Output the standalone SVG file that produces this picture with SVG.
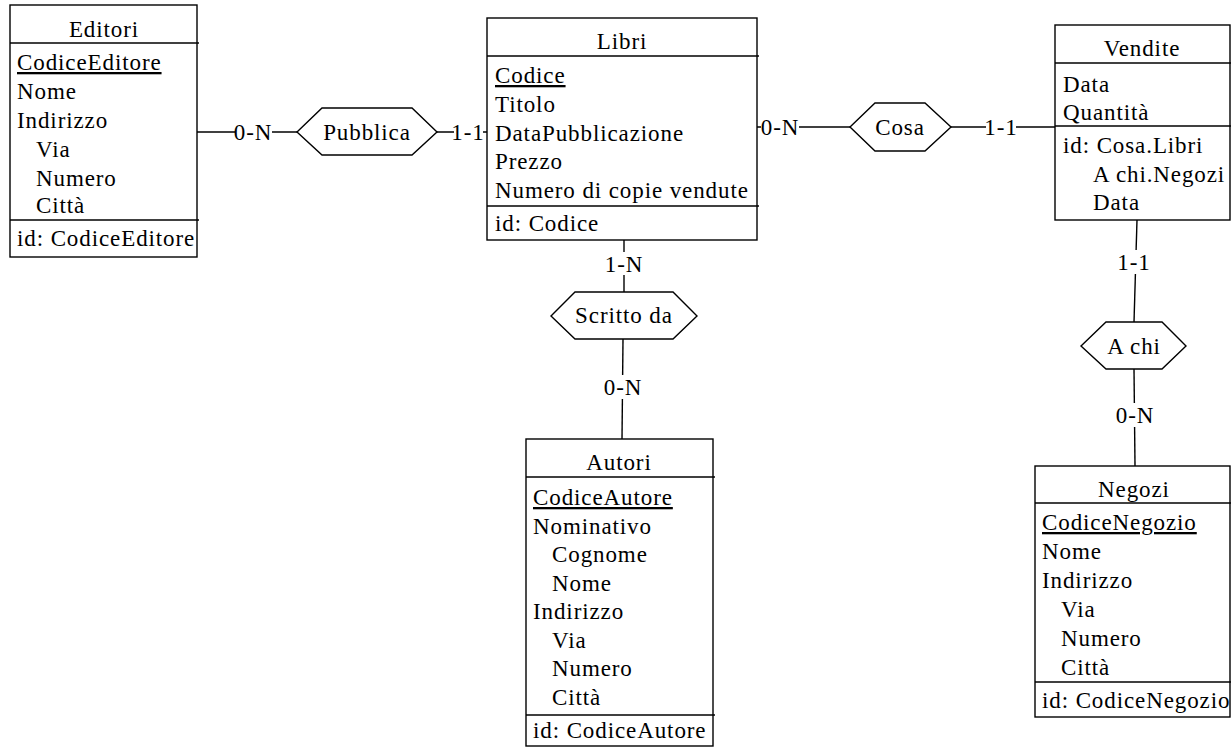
<svg xmlns="http://www.w3.org/2000/svg" width="1231" height="748" viewBox="0 0 1231 748">
<style>
  text { font-family: "Liberation Serif", "Times New Roman", serif; font-size: 23px; letter-spacing: 0.9px; fill: #000; }
  .t { text-anchor: middle; }
  .u { text-decoration: underline; }
  .box { fill: #fff; stroke: #000; stroke-width: 1.4; }
  .div { stroke: #000; stroke-width: 1.4; fill: none; }
  .hex { fill: #fff; stroke: #000; stroke-width: 1.4; }
  .ln { stroke: #000; stroke-width: 1.4; fill: none; }
  .bg { fill: #fff; stroke: none; }
  .card { text-anchor: middle; }
</style>
<rect width="1231" height="748" fill="#fff"/>

<g id="connectors">
  <line class="ln" x1="197" y1="132" x2="297" y2="132"/>
  <rect class="bg" x="235" y="120" width="37" height="24"/>
  <text class="card" x="253" y="140">0-N</text>
  <line class="ln" x1="437" y1="132" x2="487" y2="132"/>
  <rect class="bg" x="454" y="120" width="29" height="24"/>
  <text class="card" x="468" y="140">1-1</text>
  <line class="ln" x1="757" y1="127" x2="850" y2="127"/>
  <rect class="bg" x="761" y="115" width="38" height="24"/>
  <text class="card" x="780" y="135">0-N</text>
  <line class="ln" x1="951" y1="127" x2="1055" y2="127"/>
  <rect class="bg" x="986" y="115" width="30" height="24"/>
  <text class="card" x="1001" y="135">1-1</text>
  <line class="ln" x1="624" y1="240" x2="624" y2="292"/>
  <rect class="bg" x="605" y="252" width="38" height="23"/>
  <text class="card" x="624" y="272">1-N</text>
  <line class="ln" x1="623" y1="339" x2="622" y2="439"/>
  <rect class="bg" x="604" y="375" width="38" height="24"/>
  <text class="card" x="623" y="395">0-N</text>
  <line class="ln" x1="1137" y1="220" x2="1134" y2="322"/>
  <rect class="bg" x="1119" y="250" width="30" height="24"/>
  <text class="card" x="1134" y="270">1-1</text>
  <line class="ln" x1="1134" y1="369" x2="1135" y2="466"/>
  <rect class="bg" x="1116" y="403" width="38" height="24"/>
  <text class="card" x="1135" y="423">0-N</text>
</g>

<g id="Pubblica">
  <polygon class="hex" points="297,132 322,108 412,108 437,132 412,155 322,155"/>
  <text class="t" x="367" y="140">Pubblica</text>
</g>
<g id="Cosa">
  <polygon class="hex" points="850,127 875,103 925,103 951,127 925,151 875,151"/>
  <text class="t" x="900" y="135">Cosa</text>
</g>
<g id="ScrittoDa">
  <polygon class="hex" points="551,316 575,292 673,292 697,316 673,339 575,339"/>
  <text class="t" x="624" y="323">Scritto da</text>
</g>
<g id="AChi">
  <polygon class="hex" points="1081,346 1106,322 1162,322 1186,346 1162,369 1106,369"/>
  <text class="t" x="1134" y="354">A chi</text>
</g>

<g id="Editori">
  <rect class="box" x="10" y="5" width="187" height="252"/>
  <line class="div" x1="10" y1="43" x2="199" y2="43"/>
  <line class="div" x1="10" y1="220" x2="199" y2="220"/>
  <text class="t" x="104" y="37">Editori</text>
  <text class="u" x="17" y="70">CodiceEditore</text>
  <text x="17" y="99">Nome</text>
  <text x="17" y="128">Indirizzo</text>
  <text x="36" y="157">Via</text>
  <text x="36" y="186">Numero</text>
  <text x="36" y="213">Città</text>
  <text x="17" y="246">id: CodiceEditore</text>
</g>

<g id="Libri">
  <rect class="box" x="487" y="18" width="270" height="222"/>
  <line class="div" x1="487" y1="56" x2="759" y2="56"/>
  <line class="div" x1="487" y1="206" x2="759" y2="206"/>
  <text class="t" x="622" y="49">Libri</text>
  <text class="u" x="495" y="83">Codice</text>
  <text x="495" y="112">Titolo</text>
  <text x="495" y="141">DataPubblicazione</text>
  <text x="495" y="169">Prezzo</text>
  <text x="495" y="198">Numero di copie vendute</text>
  <text x="495" y="231">id: Codice</text>
</g>

<g id="Vendite">
  <rect class="box" x="1055" y="25" width="175" height="195"/>
  <line class="div" x1="1055" y1="63" x2="1231" y2="63"/>
  <line class="div" x1="1055" y1="126" x2="1231" y2="126"/>
  <text class="t" x="1142" y="56">Vendite</text>
  <text x="1063" y="92">Data</text>
  <text x="1063" y="120">Quantità</text>
  <text x="1063" y="153">id: Cosa.Libri</text>
  <text x="1093" y="182">A chi.Negozi</text>
  <text x="1093" y="210">Data</text>
</g>

<g id="Autori">
  <rect class="box" x="526" y="439" width="187" height="307"/>
  <line class="div" x1="526" y1="477" x2="715" y2="477"/>
  <line class="div" x1="526" y1="715" x2="715" y2="715"/>
  <text class="t" x="619" y="470">Autori</text>
  <text class="u" x="533" y="505">CodiceAutore</text>
  <text x="533" y="534">Nominativo</text>
  <text x="552" y="562">Cognome</text>
  <text x="552" y="591">Nome</text>
  <text x="533" y="619">Indirizzo</text>
  <text x="552" y="648">Via</text>
  <text x="552" y="676">Numero</text>
  <text x="552" y="705">Città</text>
  <text x="533" y="738">id: CodiceAutore</text>
</g>

<g id="Negozi">
  <rect class="box" x="1035" y="466" width="195" height="251"/>
  <line class="div" x1="1035" y1="503" x2="1231" y2="503"/>
  <line class="div" x1="1035" y1="682" x2="1231" y2="682"/>
  <text class="t" x="1134" y="497">Negozi</text>
  <text class="u" x="1042" y="530">CodiceNegozio</text>
  <text x="1042" y="559">Nome</text>
  <text x="1042" y="588">Indirizzo</text>
  <text x="1061" y="617">Via</text>
  <text x="1061" y="646">Numero</text>
  <text x="1061" y="675">Città</text>
  <text x="1042" y="708">id: CodiceNegozio</text>
</g>
</svg>
